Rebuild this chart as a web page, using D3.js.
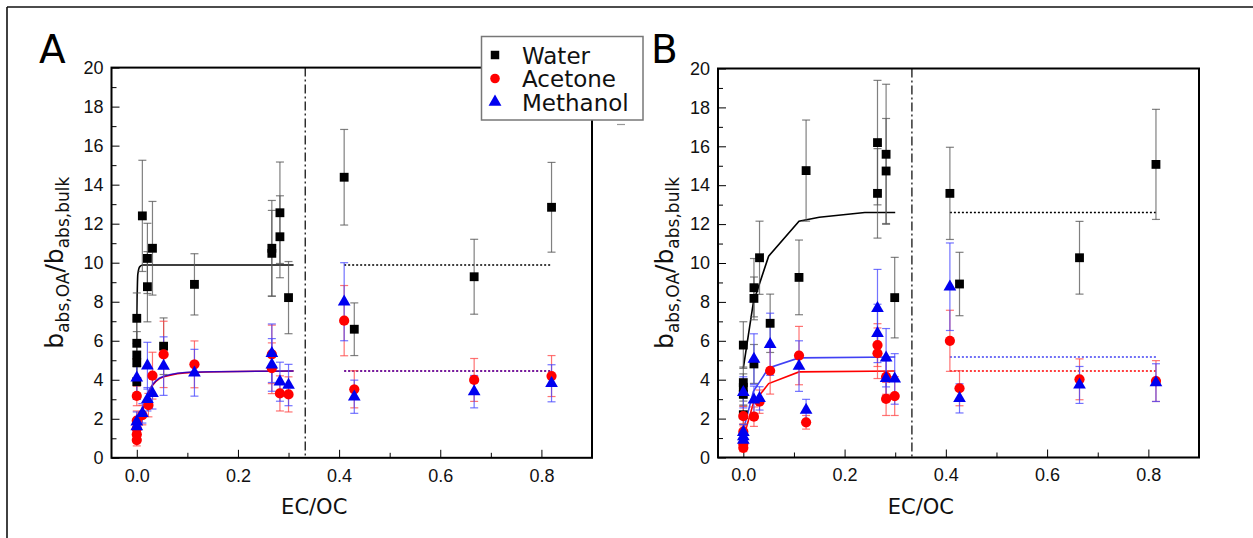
<!DOCTYPE html>
<html>
<head>
<meta charset="utf-8">
<script src="https://cdn.jsdelivr.net/npm/d3@7"></script>
<style>
  body { margin: 0; background: #fff; }
  svg { display: block; font-family: "DejaVu Sans", Verdana, sans-serif; }
  .axis path, .axis line { stroke: #000; }
  .axis text { font-size: 18px; fill: #111; }
</style>
</head>
<body>
<div class="wrapper"></div>
<script>

// ---------------- data ---------------- //
// each point: [EC/OC, b_abs ratio, error]

var waterA = [
	[0.0, 7.15, 1.3], [0.0, 5.87, 1.2], [0.0, 5.27, 1.2], [0.0, 4.87, 1.0], [0.0, 3.9, 0.9],
	[0.011, 12.4, 2.85], [0.021, 10.22, 1.8], [0.021, 8.77, 1.8], [0.031, 10.74, 2.4],
	[0.053, 5.72, 1.45], [0.114, 8.89, 1.57], [0.267, 10.74, 2.45], [0.267, 10.48, 2.2],
	[0.283, 12.56, 2.6], [0.283, 11.33, 2.1], [0.30, 8.21, 1.85],
	[0.41, 14.38, 2.45], [0.43, 6.59, 1.35], [0.667, 9.28, 1.92], [0.82, 12.84, 2.3]
];
var acetoneA = [
	[0.0, 3.17, 0.5], [0.0, 0.91, 0.3], [0.0, 1.2, 0.4], [0.0, 1.5, 0.5], [0.0, 1.9, 0.5],
	[0.011, 2.19, 0.5], [0.023, 2.7, 0.6], [0.031, 4.21, 1.2], [0.053, 5.3, 1.7],
	[0.114, 4.79, 1.2], [0.267, 5.3, 1.5], [0.267, 4.59, 1.3], [0.283, 3.3, 0.9], [0.30, 3.25, 0.9],
	[0.41, 7.03, 1.8], [0.43, 3.51, 0.95], [0.667, 3.99, 1.1], [0.82, 4.19, 1.05]
];
var methanolA = [
	[0.0, 4.1, 1.1], [0.0, 1.85, 0.5], [0.0, 1.6, 0.4], [0.011, 2.28, 0.5], [0.021, 4.72, 1.2],
	[0.021, 3.0, 0.6], [0.031, 3.3, 0.8], [0.053, 4.7, 1.5], [0.114, 4.36, 1.2],
	[0.267, 5.36, 1.5], [0.267, 4.76, 1.35], [0.283, 3.9, 1.0], [0.30, 3.73, 1.06],
	[0.41, 8.0, 2.0], [0.43, 3.13, 0.85], [0.667, 3.39, 0.83], [0.82, 3.82, 0.95]
];

var waterB = [
	[0.0, 5.78, 1.2], [0.0, 3.85, 0.8], [0.0, 3.6, 0.7], [0.0, 3.25, 0.6], [0.0, 2.2, 0.5],
	[0.021, 8.73, 1.5], [0.021, 8.18, 1.1], [0.021, 4.81, 1.0], [0.032, 10.27, 1.88],
	[0.053, 6.9, 1.5], [0.11, 9.26, 1.92], [0.124, 14.75, 2.6], [0.265, 16.19, 3.2],
	[0.265, 13.58, 2.3], [0.282, 15.59, 3.6], [0.282, 14.73, 2.7], [0.299, 8.22, 2.07],
	[0.408, 13.58, 2.37], [0.427, 8.92, 1.63], [0.664, 10.27, 1.87], [0.815, 15.07, 2.83]
];
var acetoneB = [
	[0.0, 2.13, 0.5], [0.0, 1.33, 0.4], [0.0, 0.7, 0.3], [0.0, 0.5, 0.2], [0.021, 2.1, 0.5],
	[0.032, 2.87, 0.6], [0.053, 4.46, 1.2], [0.11, 5.24, 1.5], [0.124, 1.81, 0.35],
	[0.265, 5.78, 1.1], [0.265, 5.36, 1.3], [0.282, 3.01, 0.85], [0.282, 4.15, 0.9], [0.299, 3.16, 1.0],
	[0.408, 6.0, 1.57], [0.427, 3.56, 0.9], [0.664, 4.02, 1.05], [0.815, 3.93, 1.05]
];
var methanolB = [
	[0.0, 3.35, 0.8], [0.0, 1.3, 0.4], [0.0, 1.07, 0.3], [0.0, 0.9, 0.3], [0.021, 5.06, 1.3],
	[0.021, 2.97, 0.7], [0.032, 3.04, 0.6], [0.053, 5.82, 1.6], [0.11, 4.7, 1.3], [0.124, 2.44, 0.55],
	[0.265, 7.67, 2.0], [0.265, 6.38, 1.5], [0.282, 5.13, 1.5], [0.282, 4.07, 0.9], [0.299, 4.04, 1.3],
	[0.408, 8.78, 2.25], [0.427, 3.04, 0.75], [0.664, 3.73, 0.95], [0.815, 3.85, 0.97]
];

// fitted curves (left of the divider) and plateau levels (dotted, right side)
var waterFitA = [[0, 7.2], [0.002, 9.4], [0.006, 9.8], [0.012, 9.88], [0.31, 9.88]];
var acetoneFitA = [[0, 1.6], [0.012, 2.45], [0.025, 3.45], [0.053, 4.15], [0.11, 4.38], [0.31, 4.45]];
var methanolFitA = [[0, 1.7], [0.012, 2.55], [0.025, 3.5], [0.053, 4.18], [0.11, 4.4], [0.31, 4.45]];
var waterFitB = [[0, 4.6], [0.02, 8.0], [0.05, 10.35], [0.11, 12.15], [0.15, 12.35], [0.24, 12.6], [0.3, 12.6]];
var acetoneFitB = [[0, 1.0], [0.02, 2.8], [0.05, 3.8], [0.11, 4.4], [0.3, 4.45]];
var methanolFitB = [[0, 1.4], [0.02, 3.4], [0.05, 4.6], [0.11, 5.12], [0.3, 5.17]];

var plateauA = [9.88, 4.45, 4.45];   // water, acetone, methanol
var plateauB = [12.6, 4.45, 5.17];
var plateauSpanA = [0.41, 0.82];
var plateauSpanB = [0.408, 0.815];
var DIVIDER = 0.333;

var xTicks = [0, 0.2, 0.4, 0.6, 0.8],
	xMinor = [0.1, 0.3, 0.5, 0.7],
	yTicks = [0, 2, 4, 6, 8, 10, 12, 14, 16, 18, 20],
	yMinor = [1, 3, 5, 7, 9, 11, 13, 15, 17, 19];

var legendLabels = ["Water", "Acetone", "Methanol"];

// ---------------- drawing ---------------- //

var COLORS = ["#000", "#f00", "#0000f0"],
	ERR_COLORS = ["#555", "#f44", "#44f"];

var svg = d3.select(".wrapper")
	.append("svg")
		.attr("width", 1253)
		.attr("height", 538);

// outer figure border (top + left visible)
svg.append("line").attr("x1", 7).attr("y1", 7).attr("x2", 1253).attr("y2", 7)
	.attr("stroke", "#111").attr("stroke-width", 1.6);
svg.append("line").attr("x1", 7).attr("y1", 7).attr("x2", 7).attr("y2", 538)
	.attr("stroke", "#111").attr("stroke-width", 1.6);

function drawPanel(opt) {
	var x = d3.scaleLinear().domain([-0.05, 0.9]).range([opt.left, opt.right]),
		y = d3.scaleLinear().domain([0, 20]).range([opt.bottom, opt.top]);

	var g = svg.append("g");

	// axes, ticks pointing inwards
	g.append("g").attr("class", "axis")
		.attr("transform", "translate(0," + opt.bottom + ")")
		.call(d3.axisBottom(x).tickValues(xTicks).tickSize(-8).tickPadding(11).tickFormat(d3.format(".1f")));
	g.append("g").attr("class", "axis")
		.attr("transform", "translate(0," + opt.bottom + ")")
		.call(d3.axisBottom(x).tickValues(xMinor).tickSize(-5).tickFormat(""));
	g.append("g").attr("class", "axis")
		.attr("transform", "translate(" + opt.left + ",0)")
		.call(d3.axisLeft(y).tickValues(yTicks).tickSize(-8).tickPadding(8));
	g.append("g").attr("class", "axis")
		.attr("transform", "translate(" + opt.left + ",0)")
		.call(d3.axisLeft(y).tickValues(yMinor).tickSize(-5).tickFormat(""));
	g.selectAll(".axis .domain").remove();

	// frame
	g.append("rect")
		.attr("x", opt.left).attr("y", opt.top)
		.attr("width", opt.right - opt.left).attr("height", opt.bottom - opt.top)
		.attr("fill", "none").attr("stroke", "#000").attr("stroke-width", 2);

	// dash-dot divider
	g.append("line")
		.attr("x1", x(DIVIDER)).attr("x2", x(DIVIDER))
		.attr("y1", opt.top).attr("y2", opt.bottom)
		.attr("stroke", "#000").attr("stroke-width", 1.2)
		.attr("stroke-dasharray", "9,3,2,3");

	var line = d3.line()
		.curve(opt.curve)
		.x(function(d) {return x(d[0]);}).y(function(d) {return y(d[1]);});

	// fits: water, then acetone, methanol on top
	opt.fits.forEach(function(f, i) {
		g.append("path").datum(f)
			.attr("d", line)
			.attr("fill", "none")
			.attr("stroke", COLORS[i])
			.attr("stroke-opacity", i == 2 ? 0.75 : 1)
			.attr("stroke-width", 1.6);
	});
	opt.plateau.forEach(function(p, i) {
		g.append("line")
			.attr("x1", x(opt.span[0])).attr("x2", x(opt.span[1]))
			.attr("y1", y(p)).attr("y2", y(p))
			.attr("stroke", COLORS[i])
			.attr("stroke-opacity", i == 2 ? 0.75 : 1)
			.attr("stroke-width", 1.5)
			.attr("stroke-dasharray", "2,2");
	});

	// error bars
	opt.series.forEach(function(s, i) {
		var eb = g.append("g")
			.attr("stroke", ERR_COLORS[i])
			.attr("stroke-opacity", 0.75)
			.attr("stroke-width", 1.2);
		eb.selectAll("line.v").data(s).enter().append("line")
			.attr("x1", function(d) {return x(d[0]);}).attr("x2", function(d) {return x(d[0]);})
			.attr("y1", function(d) {return y(d[1] + d[2]);}).attr("y2", function(d) {return y(d[1] - d[2]);});
		eb.selectAll("line.t").data(s).enter().append("line")
			.attr("x1", function(d) {return x(d[0]) - 4;}).attr("x2", function(d) {return x(d[0]) + 4;})
			.attr("y1", function(d) {return y(d[1] + d[2]);}).attr("y2", function(d) {return y(d[1] + d[2]);});
		eb.selectAll("line.b").data(s).enter().append("line")
			.attr("x1", function(d) {return x(d[0]) - 4;}).attr("x2", function(d) {return x(d[0]) + 4;})
			.attr("y1", function(d) {return y(d[1] - d[2]);}).attr("y2", function(d) {return y(d[1] - d[2]);});
	});

	// markers
	var shapes = [d3.symbolSquare, d3.symbolCircle, d3.symbolTriangle],
		sizes = [78, 82, 70];
	opt.series.forEach(function(s, i) {
		g.selectAll(null).data(s).enter().append("path")
			.attr("d", d3.symbol().type(shapes[i]).size(sizes[i]))
			.attr("transform", function(d) {return "translate(" + x(d[0]) + "," + y(d[1]) + ")";})
			.attr("fill", COLORS[i]);
	});

	// axis titles
	g.append("text")
		.attr("x", x(0.333) + 9).attr("y", 514)
		.attr("text-anchor", "middle")
		.attr("font-size", 21)
		.attr("fill", "#111")
		.text("EC/OC");

	var yl = g.append("text")
		.attr("transform", "translate(" + opt.ylabelX + "," + ((opt.top + opt.bottom) / 2) + ") rotate(-90)")
		.attr("text-anchor", "middle")
		.attr("font-size", 25)
		.attr("fill", "#111");
	yl.append("tspan").text("b");
	yl.append("tspan").attr("font-size", 17).attr("dy", 6).text("abs,OA");
	yl.append("tspan").attr("dy", -6).text("/b");
	yl.append("tspan").attr("font-size", 17).attr("dy", 6).text("abs,bulk");

	g.append("text")
		.attr("x", opt.letterX).attr("y", 63)
		.attr("font-size", 39)
		.attr("fill", "#000")
		.text(opt.letter);
}

drawPanel({
	left: 111.5, right: 592, top: 67.6, bottom: 457.8,
	series: [waterA, acetoneA, methanolA],
	fits: [waterFitA, acetoneFitA, methanolFitA],
	plateau: plateauA, span: plateauSpanA, curve: d3.curveMonotoneX,
	ylabelX: 63, letter: "A", letterX: 39
});

drawPanel({
	left: 718, right: 1199, top: 68.5, bottom: 457.5,
	series: [waterB, acetoneB, methanolB],
	fits: [waterFitB, acetoneFitB, methanolFitB],
	plateau: plateauB, span: plateauSpanB, curve: d3.curveLinear,
	ylabelX: 673, letter: "B", letterX: 651
});

// legend (sits over panel A's top right corner)
var lg = svg.append("g");
lg.append("rect")
	.attr("x", 481.5).attr("y", 36.5).attr("width", 161.5).attr("height", 83.5)
	.attr("fill", "#fff").attr("stroke", "#777").attr("stroke-width", 1.5);
var legendShapes = [d3.symbolSquare, d3.symbolCircle, d3.symbolTriangle];
legendLabels.forEach(function(lab, i) {
	var cy = 55 + i * 23.5;
	lg.append("path")
		.attr("d", d3.symbol().type(legendShapes[i]).size(72))
		.attr("transform", "translate(495," + cy + ")")
		.attr("fill", COLORS[i]);
	lg.append("text")
		.attr("x", 522).attr("y", cy + 8.5)
		.attr("font-size", 23)
		.attr("fill", "#111")
		.text(lab);
});

// stray grey cap right of panel A
svg.append("line").attr("x1", 617).attr("x2", 625).attr("y1", 124.5).attr("y2", 124.5)
	.attr("stroke", "#999").attr("stroke-width", 1.2);

</script>
</body>
</html>
